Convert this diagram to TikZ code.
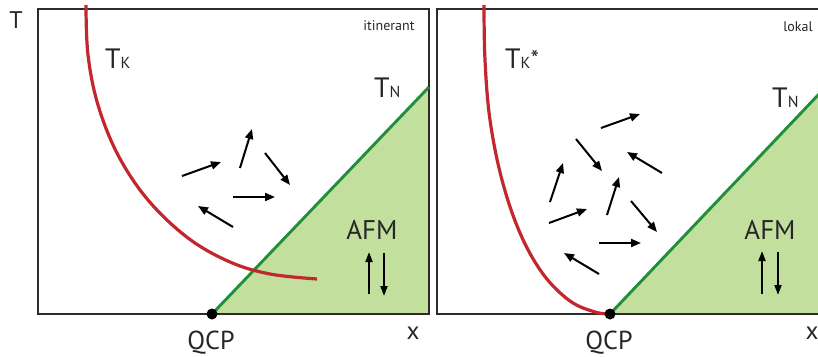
\documentclass[tikz,border=0pt]{standalone}
\usepackage{fontspec}
\setmainfont{PT Sans}
\usetikzlibrary{arrows.meta}
\definecolor{kred}{HTML}{C1272D}
\definecolor{ngreen}{HTML}{1F8F3A}
\definecolor{afill}{HTML}{C3DF9D}
\definecolor{frame}{HTML}{2B2B2B}
\begin{document}
\begin{tikzpicture}[x=1pt,y=-1pt,
  lbl/.style={inner sep=0pt,anchor=base,text=black!85},
  spin/.style={line width=2pt,-{Triangle[length=10pt,width=8pt]}},
  afmspin/.style={line width=1.9pt,-{Triangle[length=10pt,width=7pt]}},
  kondo/.style={kred,line width=3.2pt},
  neel/.style={ngreen,line width=2.9pt},
  box/.style={frame,line width=2.2pt}]
\useasboundingbox (0,0) rectangle (818,356);
% left panel
\fill[afill] (212,314) -- (429,87) -- (429,314) -- cycle;
\draw[box] (38,9) rectangle (429,314);
\draw[neel] (212,314) -- (429,87);
\draw[kondo] plot[smooth,tension=0.6] coordinates {(86,5) (88,55) (98,105) (118,155) (148,200) (188,238) (230,262) (270,274) (317,279)};
\fill[black] (212,314) circle (5.5pt);
% right panel
\fill[afill] (610,314) -- (819,94) -- (819,314) -- cycle;
\draw[box] (437,9) rectangle (822,314);
\draw[neel] (610,314) -- (819,94);
\draw[kondo] plot[smooth,tension=0.6] coordinates {(484,5) (485,60) (490,120) (502,180) (520,233) (543,274) (570,301) (595,312) (610,314)};
\fill[black] (610,314) circle (5.5pt);
% texts
\node[lbl,font=\fontsize{24}{24}\selectfont] (Tax) at (16,28) {T};
\node[lbl,font=\fontsize{14}{14}\selectfont] (itin) at (389,30) {itinerant};
\node[lbl,font=\fontsize{14}{14}\selectfont] (lok) at (798,31) {lokal};
\node[lbl,font=\fontsize{28}{28}\selectfont,anchor=base west] (TK) at (105,68) {T\fontsize{16}{16}\selectfont K};
\node[lbl,font=\fontsize{28}{28}\selectfont,anchor=base west] (TN1) at (374,97) {T\fontsize{16}{16}\selectfont N};
\node[lbl,font=\fontsize{28}{28}\selectfont,anchor=base west] (TKs) at (505,68) {T\fontsize{16}{16}\selectfont K\fontsize{24}{24}\selectfont\raisebox{1pt}{*}};
\node[lbl,font=\fontsize{28}{28}\selectfont,anchor=base west] (TN2) at (772,107) {T\fontsize{16}{16}\selectfont N};
\node[lbl,font=\fontsize{27}{27}\selectfont] (AFM1) at (372,239) {AFM};
\node[lbl,font=\fontsize{27}{27}\selectfont] (AFM2) at (770,239) {AFM};
\node[lbl,font=\fontsize{26}{26}\selectfont] (Q1) at (211,349) {QCP};
\node[lbl,font=\fontsize{26}{26}\selectfont] (Q2) at (609,349) {QCP};
\node[lbl,font=\fontsize{25}{25}\selectfont] (x1) at (413,339) {x};
\node[lbl,font=\fontsize{25}{25}\selectfont] (x2) at (812,339) {x};
% AFM spins
\draw[afmspin] (369,294) -- (369,252);
\draw[afmspin] (384,253) -- (384,296);
\draw[afmspin] (762,294) -- (762,251);
\draw[afmspin] (778,252) -- (778,295);
% left spins
\draw[spin] (182,176) -- (221,162);
\draw[spin] (240,168) -- (252,129);
\draw[spin] (265,153) -- (290,185);
\draw[spin] (233,197) -- (275,197);
\draw[spin] (233,227) -- (198,206);
% right spins
\draw[spin] (601,128) -- (640,114);
\draw[spin] (576,139) -- (602,171);
\draw[spin] (662,173) -- (627,152);
\draw[spin] (550,202) -- (563,163);
\draw[spin] (607,215) -- (619,177);
\draw[spin] (549,223) -- (587,209);
\draw[spin] (631,201) -- (657,232);
\draw[spin] (599,243) -- (641,243);
\draw[spin] (599,274) -- (564,253);
\end{tikzpicture}
\end{document}
